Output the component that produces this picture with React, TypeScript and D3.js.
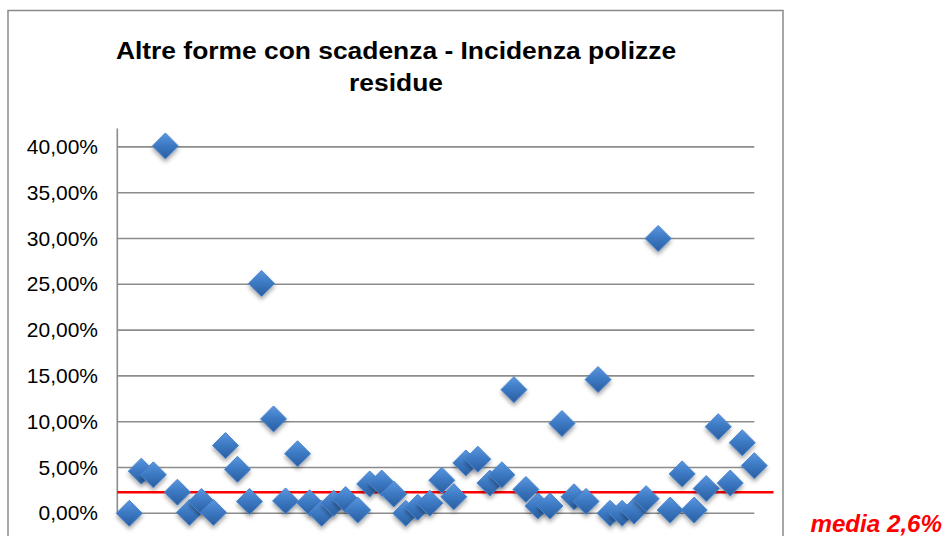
import { useEffect, useRef } from "react"
import * as d3 from "d3"

const titleLines = ["Altre forme con scadenza - Incidenza polizze", "residue"]
const yTicks = [0, 5, 10, 15, 20, 25, 30, 35, 40]
const yMax = 42
const meanValue = 2.3
const meanLabel = "media 2,6%"

// incidence (%) per company in order
const values = [
  0, 4.6, 4.2, 40.1, 2.3, 0.1, 1.3, 0.1, 7.4, 4.8,
  1.3, 25.1, 10.3, 1.35, 6.5, 1.15, 0, 1.1, 1.5, 0.35,
  3.2, 3.3, 2.1, 0, 0.65, 1.1, 3.6, 1.8, 5.5, 5.9,
  3.3, 4.2, 13.5, 2.6, 0.8, 0.8, 9.8, 1.8, 1.3, 14.6,
  0, 0, 0.25, 1.6, 30, 0.35, 4.3, 0.35, 2.7, 9.45,
  3.3, 7.7, 5.2,
]
const meanLineEnd = 54.6

const width = 944
const height = 536

export default function App() {
  const svgRef = useRef<SVGSVGElement | null>(null)

  useEffect(() => {
    const svg = d3.select(svgRef.current)
    svg.selectAll("*").remove()

    const plot = { left: 117.3, right: 754.3, bottom: 513.3 }
    const x = d3.scaleLinear().domain([0, values.length]).range([plot.left, plot.right])
    const y = d3.scaleLinear().domain([0, yMax]).range([plot.bottom, plot.bottom - yMax * 9.16])

    const defs = svg.append("defs")
    const grad = defs
      .append("linearGradient")
      .attr("id", "dgrad")
      .attr("x1", 0)
      .attr("y1", 0)
      .attr("x2", 0)
      .attr("y2", 1)
    grad.append("stop").attr("offset", "0%").attr("stop-color", "#5a96de")
    grad.append("stop").attr("offset", "50%").attr("stop-color", "#3b78c2")
    grad.append("stop").attr("offset", "100%").attr("stop-color", "#2a5d9f")
    const shadow = defs
      .append("filter")
      .attr("id", "dshadow")
      .attr("x", "-50%")
      .attr("y", "-50%")
      .attr("width", "200%")
      .attr("height", "200%")
    shadow
      .append("feDropShadow")
      .attr("dx", 0)
      .attr("dy", 3)
      .attr("stdDeviation", 2.2)
      .attr("flood-color", "#000")
      .attr("flood-opacity", 0.35)

    // chart frame
    svg
      .append("rect")
      .attr("x", 8)
      .attr("y", 10.5)
      .attr("width", 775)
      .attr("height", 540)
      .attr("fill", "#fff")
      .attr("stroke", "#8a8a8a")
      .attr("stroke-width", 1.5)

    // title
    const title = svg
      .append("g")
      .attr("font-family", "Arial, 'Liberation Sans', sans-serif")
      .attr("font-weight", "bold")
      .attr("font-size", 24)
      .attr("fill", "#000")
    titleLines.forEach((t, i) => {
      title
        .append("text")
        .attr("transform", `translate(396,${59 + i * 32}) scale(1.1,1)`)
        .attr("text-anchor", "middle")
        .text(t)
    })

    // gridlines
    svg
      .append("g")
      .selectAll("line")
      .data(yTicks)
      .enter()
      .append("line")
      .attr("x1", plot.left)
      .attr("x2", plot.right)
      .attr("y1", (d) => y(d))
      .attr("y2", (d) => y(d))
      .attr("stroke", "#8c8c8c")
      .attr("stroke-width", 1.6)

    // y axis line
    svg
      .append("line")
      .attr("x1", plot.left)
      .attr("x2", plot.left)
      .attr("y1", y(yMax))
      .attr("y2", y(0))
      .attr("stroke", "#8c8c8c")
      .attr("stroke-width", 1.6)

    // tick labels
    const fmt = (v: number) => v.toFixed(2).replace(".", ",") + "%"
    svg
      .append("g")
      .selectAll("text")
      .data(yTicks)
      .enter()
      .append("text")
      .attr("transform", (d) => `translate(98,${y(d) + 7}) scale(1.05,1)`)
      .attr("text-anchor", "end")
      .attr("font-family", "Arial, 'Liberation Sans', sans-serif")
      .attr("font-size", 20)
      .attr("fill", "#000")
      .text((d) => fmt(d))

    // mean line
    svg
      .append("line")
      .attr("x1", x(0))
      .attr("x2", x(meanLineEnd))
      .attr("y1", y(meanValue))
      .attr("y2", y(meanValue))
      .attr("stroke", "#ff0000")
      .attr("stroke-width", 2.6)

    // diamonds
    const r = 13
    svg
      .append("g")
      .selectAll("path")
      .data(values)
      .enter()
      .append("path")
      .attr("transform", (d, i) => `translate(${x(i + 1)},${y(d)})`)
      .attr("d", `M0,${-r}L${r},0L0,${r}L${-r},0Z`)
      .attr("fill", "url(#dgrad)")
      .attr("stroke", "#4a86cf")
      .attr("stroke-width", 1)
      .attr("filter", "url(#dshadow)")

    // mean label
    svg
      .append("text")
      .attr("transform", `translate(942,532) scale(1.05,1)`)
      .attr("text-anchor", "end")
      .attr("font-family", "Arial, 'Liberation Sans', sans-serif")
      .attr("font-weight", "bold")
      .attr("font-style", "italic")
      .attr("font-size", 23)
      .attr("fill", "#ff0000")
      .text(meanLabel)
  }, [])

  return (
    <svg
      ref={svgRef}
      width={width}
      height={height}
      style={{ position: "absolute", left: 0, top: 0, background: "#fff" }}
    ></svg>
  )
}
